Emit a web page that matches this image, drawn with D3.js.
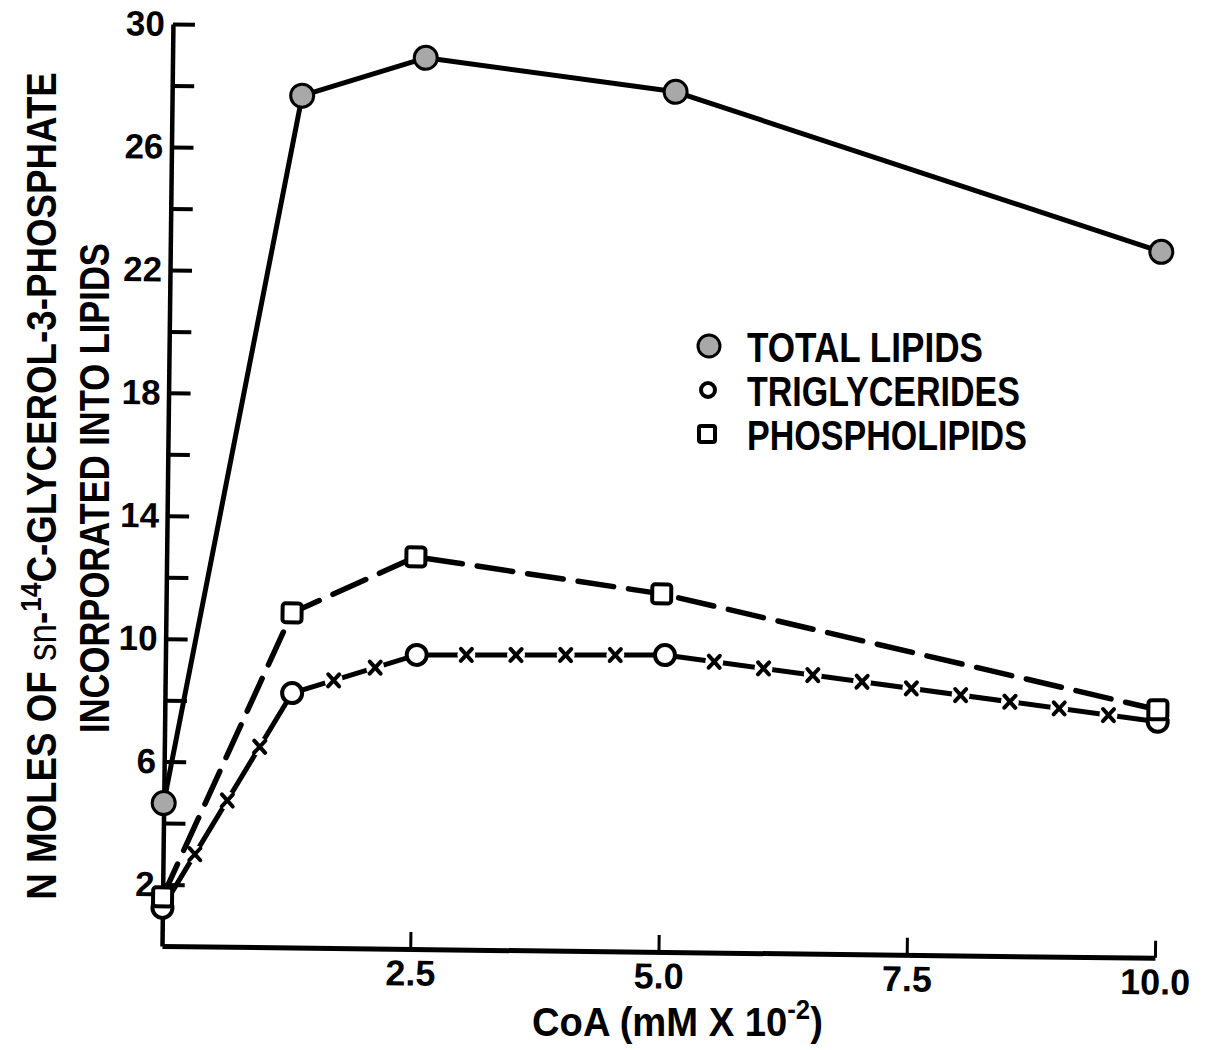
<!DOCTYPE html>
<html><head><meta charset="utf-8">
<script src="https://cdn.jsdelivr.net/npm/d3@7/dist/d3.min.js"></script>
<style>body{margin:0;background:#fff} svg{display:block}</style>
</head><body><svg id="c" width="1205" height="1050"></svg>
<script>
// ---- data ----
const coaTotal      = [0, 1.31, 2.55, 5.07, 9.98];
const totalLipids   = [4.65, 27.72, 29.0, 27.99, 22.97];
const coaPhos       = [0, 1.27, 2.51, 4.99, 10.0];
const phospholipids = [1.6, 10.89, 12.76, 11.65, 8.07];
const coaTri        = [0, 1.28, 2.53, 5.03, 10.0];
const triglycerides = [1.24, 8.28, 9.57, 9.66, 7.68];
const xTickValues   = [2.5, 5.0, 7.5, 10.0];
const xTickLabels   = ["2.5", "5.0", "7.5", "10.0"];
const yTickValues   = [2, 4, 6, 8, 10, 12, 14, 16, 18, 20, 22, 24, 26, 28, 30];
const yTickLabels   = [2, 6, 10, 14, 18, 22, 26, 30];
const legendLabels  = ["TOTAL LIPIDS", "TRIGLYCERIDES", "PHOSPHOLIPIDS"];

const FONT = "'Liberation Sans', Arial, sans-serif";
const svg = d3.select("#c");
svg.append("rect").attr("width",1205).attr("height",1050).attr("fill","#fff");

const x = d3.scaleLinear().domain([0,10]).range([162,1155]);
const y = d3.scaleLinear().domain([0,30]).range([946,24]);

// whole plot is very slightly rotated in the scan
const plot = svg.append("g").attr("transform","rotate(0.68,162,946)");

// x axis
const xAx = plot.append("g").attr("transform",`translate(0,${y(0)})`)
  .call(d3.axisBottom(x).tickValues(xTickValues)
    .tickFormat((d,i)=>xTickLabels[i]).tickSizeInner(-17).tickSizeOuter(0).tickPadding(11));
xAx.select(".domain").attr("stroke","#000").attr("stroke-width",5);
xAx.selectAll(".tick line").attr("stroke","#000").attr("stroke-width",3);
xAx.selectAll(".tick text").attr("font-family",FONT).attr("font-weight","bold")
  .attr("font-size",36).attr("fill","#000");

// y axis
const yAx = plot.append("g").attr("transform",`translate(${x(0)},0)`)
  .call(d3.axisLeft(y).tickValues(yTickValues)
    .tickFormat(d=>yTickLabels.includes(d)?d:"").tickSizeInner(-22).tickSizeOuter(0).tickPadding(8));
yAx.select(".domain").attr("stroke","#000").attr("stroke-width",4.5);
yAx.selectAll(".tick line").attr("stroke","#000").attr("stroke-width",4);
yAx.selectAll(".tick text").attr("font-family",FONT).attr("font-weight","bold")
  .attr("font-size",35).attr("fill","#000");

const line = d3.line().x(d=>x(d[0])).y(d=>y(d[1]));
const totPts = coaTotal.map((c,i)=>[c,totalLipids[i]]);
const phoPts = coaPhos.map((c,i)=>[c,phospholipids[i]]);
const triPts = coaTri.map((c,i)=>[c,triglycerides[i]]);

// phospholipids: long dashes
plot.append("path").attr("d",line(phoPts)).attr("fill","none").attr("stroke","#000")
  .attr("stroke-width",5.5).attr("stroke-dasharray","36 15").attr("stroke-linecap","round");

// triglycerides: dash - x - dash
plot.append("path").attr("d",line(triPts)).attr("fill","none").attr("stroke","#000")
  .attr("stroke-width",5).attr("stroke-linecap","round");
const crossCounts = [3,2,4,9];
const crosses = [];
for (let i=0;i<triPts.length-1;i++){
  const ax=x(triPts[i][0]), ay=y(triPts[i][1]), bx=x(triPts[i+1][0]), by=y(triPts[i+1][1]);
  const n=crossCounts[i];
  for(let k=1;k<=n;k++){ const t=k/(n+1); crosses.push([ax+(bx-ax)*t, ay+(by-ay)*t]); }
}
const cg = plot.append("g");
crosses.forEach(([cx,cy])=>{
  cg.append("circle").attr("cx",cx).attr("cy",cy).attr("r",9).attr("fill","#fff");
  cg.append("path").attr("d",`M${cx-5.5},${cy-6}L${cx+5.5},${cy+6}M${cx+5.5},${cy-6}L${cx-5.5},${cy+6}`)
    .attr("stroke","#000").attr("stroke-width",4).attr("stroke-linecap","round");
});

// total lipids: solid
plot.append("path").attr("d",line(totPts)).attr("fill","none").attr("stroke","#000")
  .attr("stroke-width",5).attr("stroke-linejoin","round");

// markers
plot.append("g").selectAll("circle").data(triPts).join("circle")
  .attr("cx",d=>x(d[0])).attr("cy",d=>y(d[1])).attr("r",10)
  .attr("fill","#fff").attr("stroke","#000").attr("stroke-width",4);
plot.append("g").selectAll("rect").data(phoPts).join("rect")
  .attr("x",d=>x(d[0])-9.5).attr("y",d=>y(d[1])-9.5).attr("width",19).attr("height",19).attr("rx",3)
  .attr("fill","#fff").attr("stroke","#000").attr("stroke-width",4);
plot.append("g").selectAll("circle").data(totPts).join("circle")
  .attr("cx",d=>x(d[0])).attr("cy",d=>y(d[1])).attr("r",11.5)
  .attr("fill","#a8a8a8").attr("stroke","#000").attr("stroke-width",3);

// helper: horizontally squeeze a text to a target width
function squeeze(text, target){
  const w = text.node().getBBox().width;
  text.attr("transform",`scale(${target/w},1)`);
}

// legend
const legend = svg.append("g");
const legendWidths = [236, 273, 280];
legendLabels.forEach((lab,i)=>{
  const base = 362 + i*44;
  const cy = base - 16;
  if(i===0) legend.append("circle").attr("cx",709).attr("cy",cy).attr("r",11)
      .attr("fill","#a8a8a8").attr("stroke","#000").attr("stroke-width",3);
  if(i===1) legend.append("circle").attr("cx",708).attr("cy",cy).attr("r",7)
      .attr("fill","#fff").attr("stroke","#000").attr("stroke-width",4);
  if(i===2) legend.append("rect").attr("x",699).attr("y",cy-8).attr("width",16).attr("height",16).attr("rx",2)
      .attr("fill","#fff").attr("stroke","#000").attr("stroke-width",4);
  const g = legend.append("g").attr("transform",`translate(747,${base})`);
  const t = g.append("text").attr("font-family",FONT).attr("font-weight","bold")
    .attr("font-size",42).attr("fill","#000").text(lab);
  squeeze(t,legendWidths[i]);
});

// y axis title (two lines, rotated)
const yt1 = svg.append("g").attr("transform","translate(56,486) rotate(-90)");
const t1 = yt1.append("text").attr("font-family",FONT).attr("font-weight","bold")
  .attr("font-size",42).attr("fill","#000").attr("text-anchor","middle");
t1.append("tspan").text("N MOLES OF ");
t1.append("tspan").attr("font-weight","normal").attr("font-size",40).text("sn");
t1.append("tspan").text("-");
t1.append("tspan").attr("font-size",30).attr("dy",-15).text("14");
t1.append("tspan").attr("dy",15).text("C-GLYCEROL-3-PHOSPHATE");
squeeze(t1,828);

const yt2 = svg.append("g").attr("transform","translate(109,488) rotate(-90)");
const t2 = yt2.append("text").attr("font-family",FONT).attr("font-weight","bold")
  .attr("font-size",42).attr("fill","#000").attr("text-anchor","middle")
  .text("INCORPORATED INTO LIPIDS");
squeeze(t2,490);

// x axis title
const xt = svg.append("g").attr("transform","translate(532,1036)");
const t3 = xt.append("text").attr("font-family",FONT).attr("font-weight","bold")
  .attr("font-size",40).attr("fill","#000");
t3.append("tspan").text("CoA (mM X 10");
t3.append("tspan").attr("font-size",27).attr("dy",-17).text("-2");
t3.append("tspan").attr("dy",17).text(")");
squeeze(t3,291);
</script></body></html>
